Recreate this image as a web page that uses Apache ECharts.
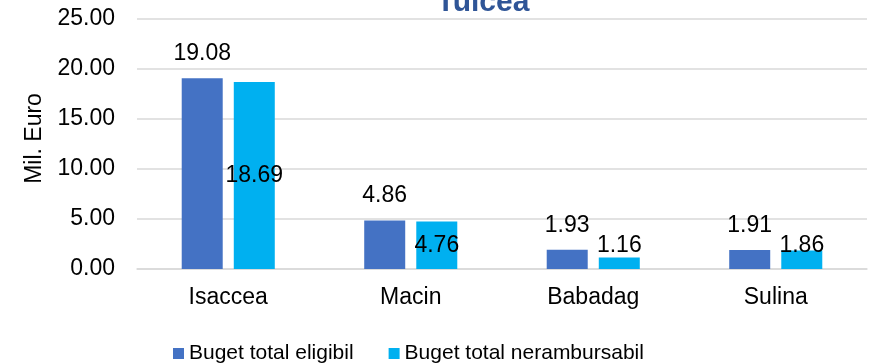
<!DOCTYPE html>
<html>
<head>
<meta charset="utf-8">
<script src="https://cdn.jsdelivr.net/npm/echarts@6/dist/echarts.min.js"></script>
<style>
  html, body { margin: 0; padding: 0; background: #fff; }
  #chart { width: 871px; height: 363px; }
</style>
</head>
<body>
<div id="chart"></div>
<script>
// Budget per town, Tulcea county (million euro)
const categories = ['Isaccea', 'Macin', 'Babadag', 'Sulina'];
const eligibleBudget = [19.08, 4.86, 1.93, 1.91];
const nonRefundableBudget = [18.69, 4.76, 1.16, 1.86];
const seriesNames = ['Buget total eligibil', 'Buget total nerambursabil'];
const yTicks = { min: 0, max: 25, interval: 5 };

const FONT = '"Liberation Sans", Arial, sans-serif';

const chart = echarts.init(document.getElementById('chart'), null, { renderer: 'canvas' });

// the first bar of the second series carries its label in the middle of the bar
const nonRefundableData = nonRefundableBudget.map((v, i) =>
  i === 0 ? { value: v, label: { position: 'inside', distance: 0 } } : v
);

chart.setOption({
  animation: false,
  backgroundColor: '#ffffff',
  textStyle: { fontFamily: FONT },
  title: {
    text: 'Tulcea',
    left: 478,
    textAlign: 'center',
    top: -17,
    textStyle: { fontFamily: FONT, fontSize: 30, fontWeight: 'bold', color: '#2F5597' }
  },
  grid: { left: 137, right: 4, top: 19, bottom: 94, containLabel: false },
  legend: {
    data: seriesNames,
    left: 168,
    top: 338,
    icon: 'rect',
    itemWidth: 11,
    itemHeight: 11,
    itemGap: 35,
    textStyle: { fontFamily: FONT, fontSize: 21, color: '#000' }
  },
  xAxis: {
    type: 'category',
    data: categories,
    axisLine: { show: true, lineStyle: { color: '#d9d9d9', width: 1.5 } },
    axisTick: { show: false },
    axisLabel: { fontFamily: FONT, fontSize: 23, color: '#000', margin: 17 }
  },
  yAxis: {
    type: 'value',
    min: yTicks.min,
    max: yTicks.max,
    interval: yTicks.interval,
    name: 'Mil. Euro',
    nameLocation: 'middle',
    nameGap: 91,
    nameTextStyle: { fontFamily: FONT, fontSize: 23, color: '#000', padding: [0, 0, 0, 11] },
    axisLine: { show: false },
    axisTick: { show: false },
    splitLine: { lineStyle: { color: '#d9d9d9', width: 1.5 } },
    axisLabel: {
      fontFamily: FONT, fontSize: 23, color: '#000', margin: 22,
      formatter: v => v.toFixed(2)
    }
  },
  series: [
    {
      name: seriesNames[0],
      type: 'bar',
      data: eligibleBudget,
      barWidth: 41,
      barGap: '27%',
      itemStyle: { color: '#4472C4' },
      label: {
        show: true, position: 'top', distance: 13,
        fontFamily: FONT, fontSize: 23, color: '#000',
        formatter: p => p.value.toFixed(2)
      }
    },
    {
      name: seriesNames[1],
      type: 'bar',
      data: nonRefundableData,
      barWidth: 41,
      barGap: '27%',
      itemStyle: { color: '#00B0F0' },
      label: {
        show: true, position: 'insideBottom', distance: 12,
        fontFamily: FONT, fontSize: 23, color: '#000',
        formatter: p => p.value.toFixed(2)
      }
    }
  ]
});
</script>
</body>
</html>
